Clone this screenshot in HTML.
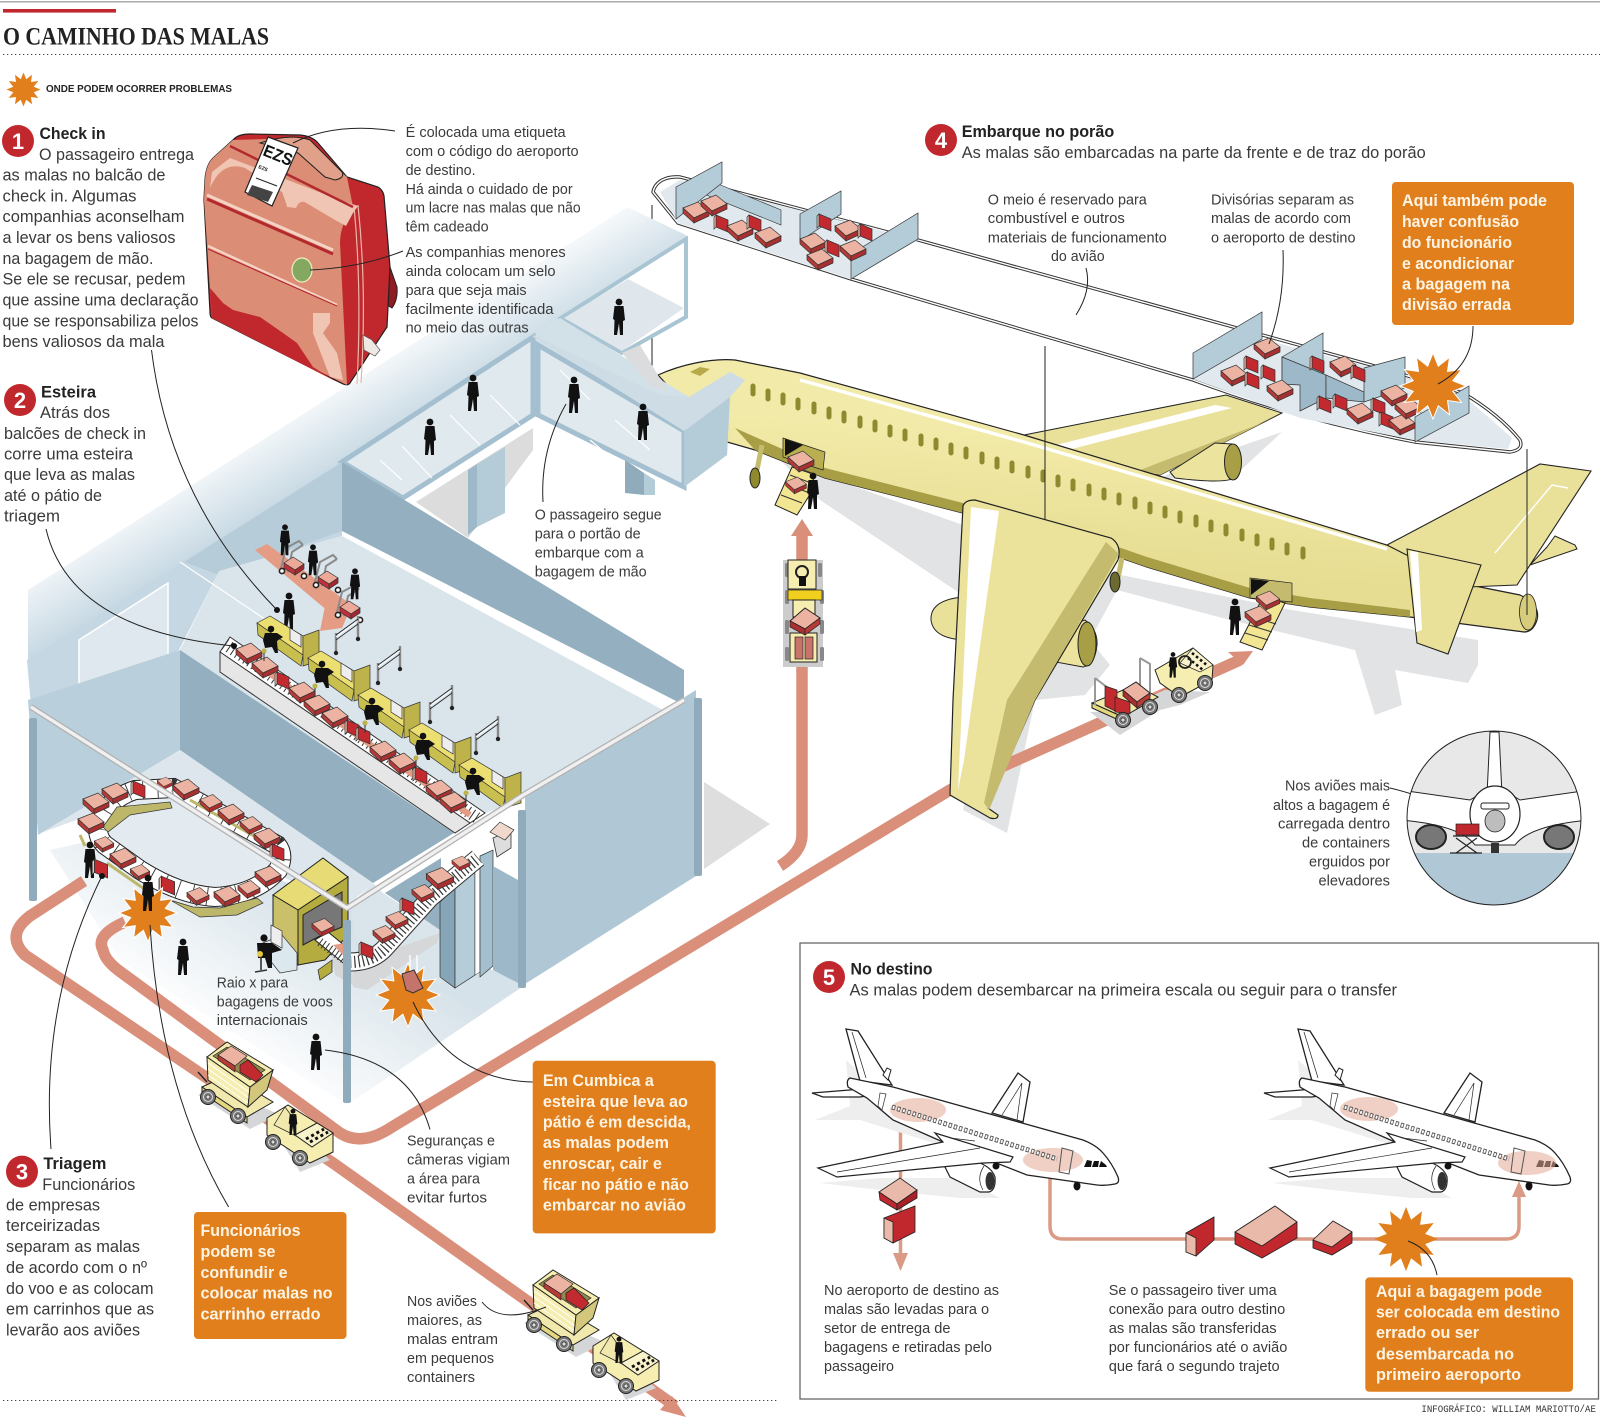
<!DOCTYPE html>
<html lang="pt"><head><meta charset="utf-8"><title>O caminho das malas</title>
<style>
html,body{margin:0;padding:0;background:#fff}
svg{display:block}
text{font-family:"Liberation Sans",sans-serif;fill:#3a3a3a}
.b{font-size:16.5px}.a{font-size:15px}
.h{font-size:16.5px;font-weight:bold;fill:#222}
.o{font-size:16.5px;font-weight:bold;fill:#fff4e4}
.k{fill:none;stroke:#222;stroke-width:1}
</style></head><body>
<svg xmlns="http://www.w3.org/2000/svg" width="1600" height="1418" viewBox="0 0 1600 1418">
<defs>
<linearGradient id="roof" gradientUnits="userSpaceOnUse" x1="325" y1="375" x2="372" y2="452"><stop offset="0" stop-color="#fff"/><stop offset="1" stop-color="#c6d8e3"/></linearGradient>
<linearGradient id="fl" gradientUnits="userSpaceOnUse" x1="310" y1="900" x2="215" y2="1045"><stop offset="0" stop-color="#d6e2e9"/><stop offset="1" stop-color="#fff"/></linearGradient>
<linearGradient id="fus" x1="0.55" y1="0.3" x2="0.45" y2="0.75"><stop offset="0" stop-color="#f2eaa8"/><stop offset="1" stop-color="#e6dd92"/></linearGradient>
<polygon id="st" points="1,0 .6,.16 .866,.5 .44,.44 .5,.866 .16,.6 0,1 -.16,.6 -.5,.866 -.44,.44 -.866,.5 -.6,.16 -1,0 -.6,-.16 -.866,-.5 -.44,-.44 -.5,-.866 -.16,-.6 0,-1 .16,-.6 .5,-.866 .44,-.44 .866,-.5 .6,-.16" fill="#e07f1c"/>
<g id="p" fill="#111"><circle cx="0" cy="-15" r="3.4"/><path d="M-4.5,-11L4.5,-11L6,3L4,4L4,18L1,18L0,6L-2,18L-5,18L-4.5,3L-6,2Z"/></g>
<g id="s" stroke="#333" stroke-width=".7"><polygon points="-13,-4 2,-10 13,-1 -2,6" fill="#ecb3a2"/><polygon points="-13,-4 -2,6 -2,11 -13,1" fill="#b83a36"/><polygon points="-2,6 13,-1 13,4 -2,11" fill="#a83030"/></g>
<g id="r" stroke="#333" stroke-width=".7"><polygon points="-6,-8 6,-3 6,9 -6,4" fill="#c22a30"/><polygon points="-6,-8 -8,-6 -8,6 -6,4" fill="#eec3b5"/></g>
<g id="w"><circle r="7.5" fill="#777" stroke="#222"/><circle r="4.5" fill="none" stroke="#ddd"/><circle r="2" fill="#ddd" stroke="#222" stroke-width=".6"/></g>
<g id="desk">
<polygon points="0,0 13,-7 46,13 46,32" fill="#ecdf72" stroke="#333" stroke-width=".7"/>
<polygon points="0,0 46,32 44,43 1,12" fill="#c9bf4f" stroke="#333" stroke-width=".7"/>
<polygon points="46,13 62,7 62,38 46,43" fill="#bdb34a" stroke="#333" stroke-width=".7"/>
<polygon points="33,5 44,12 44,24 33,17" fill="#eee" stroke="#333" stroke-width=".7"/>
<circle cx="14" cy="6" r="3.3" fill="#111"/><path d="M8,10L20,10L26,14L20,18L21,30H18L15,24L8,25L6,17Z" fill="#111"/>
<circle cx="7" cy="28" r="2.6" fill="#bdb34a"/><path d="M7,30V38" stroke="#333"/>
</g>
<g id="gate"><path d="M1,-20V0M23,-37V-14" stroke="#888" stroke-width="2.4" fill="none"/><path d="M1,-18L23,-34M1,-13L23,-29" stroke="#222" stroke-width=".8" fill="none"/><path d="M1,-18L23,-34" stroke="#fff" stroke-width="1" fill="none" transform="translate(0,2)"/><circle cx="1" cy="0" r="2.2" fill="#222"/><circle cx="23" cy="-14" r="2.2" fill="#222"/></g>
<g id="cart"><path d="M-12,5L-7,-15L6,-22L10,-18M-5,9L-1,-11L10,-18" fill="none" stroke="#8a8a8a" stroke-width="2"/><polygon points="-9,0 0,-6 11,1 2,7" fill="#eca998" stroke="#333" stroke-width=".7"/><polygon points="-9,0 2,7 2,12 -9,5" fill="#c0303a" stroke="#333" stroke-width=".7"/><polygon points="2,7 11,1 11,6 2,12" fill="#a02830" stroke="#333" stroke-width=".7"/><circle cx="-11" cy="8" r="2.6" fill="#fff" stroke="#222" stroke-width="1.6"/><circle cx="11" cy="13" r="2.6" fill="#fff" stroke="#222" stroke-width="1.6"/></g>
<g id="veh">
<polygon points="198,1095 250,1129 268,1120 300,1172 330,1160 280,1115 215,1085" fill="#d5d6d7"/>
<path d="M198,1072L207,1082" stroke="#222" stroke-width="1.4"/>
<polygon points="202,1087 247,1117 273,1102 228,1075" fill="#f1e8ad" stroke="#222"/>
<polygon points="202,1087 247,1117 247,1123 202,1093" fill="#e3d77f" stroke="#222"/>
<polygon points="207,1057 250,1087 248,1107 208,1080" fill="#f6edb0" stroke="#222"/>
<path d="M208,1063L249,1092M208,1069L249,1098M208,1075L248,1103" stroke="#fff" stroke-width="1"/>
<polygon points="250,1087 273,1070 267,1090 248,1107" fill="#d2c77a" stroke="#222"/>
<polygon points="207,1057 227,1042 273,1070 250,1087" fill="#f6edb0" stroke="#222"/>
<polygon points="213,1056 227,1047 265,1070 250,1080" fill="#8f8a50" stroke="#222" stroke-width=".7"/>
<polygon points="218,1055 231,1046 247,1056 235,1066" fill="#ecb3a2" stroke="#222" stroke-width=".7"/>
<polygon points="218,1055 235,1066 235,1072 218,1060" fill="#b83a36" stroke="#222" stroke-width=".7"/>
<polygon points="240,1065 248,1060 263,1075 256,1082 240,1072" fill="#c22a30" stroke="#222" stroke-width=".7"/>
<use href="#w" x="208" y="1097"/><use href="#w" x="238" y="1116"/>
<polygon points="267,1118 288,1105 333,1133 333,1152 310,1163 267,1135" fill="#f6edb0" stroke="#222"/>
<polygon points="295,1135 317,1123 333,1133 312,1147" fill="#f9f3cb" stroke="#222"/>
<path d="M306,1139L324,1129M310,1142L328,1132" stroke="#111" stroke-width="3" stroke-dasharray="3 3"/>
<polygon points="285,1107 296,1122 296,1136 274,1125" fill="#f1e8ad" stroke="#222" stroke-width=".7"/>
<use href="#p" transform="translate(293,1122) scale(.72)"/>
<use href="#w" x="273" y="1142"/><use href="#w" x="300" y="1158"/>
</g>
<g id="mini">
<polygon points="846,1060 875,1085 880,1105 950,1148 860,1120 815,1120 850,1106" fill="#eee"/>
<polygon points="820,1183 880,1178 960,1178 1000,1198 960,1198 880,1190" fill="#eee"/>
<polygon points="992,1113 1018,1073 1030,1082 1023,1122" fill="#fff" stroke="#222" stroke-width="1.3"/>
<path d="M1002,1115L1022,1083L1017,1120" stroke="#222" fill="none" stroke-width=".7"/>
<polygon points="846,1029 858,1031 892,1085 860,1081" fill="#fff" stroke="#222" stroke-width="1.3"/>
<path d="M852,1032L866,1078" stroke="#222" stroke-width=".7"/>
<polygon points="883,1075 887,1068 891,1070 888,1080" fill="#fff" stroke="#222"/>
<polygon points="812,1093 862,1089 872,1095 860,1097 823,1097" fill="#fff" stroke="#222" stroke-width="1.2"/>
<path d="M850,1078L893,1087L1083,1140Q1096,1145 1103,1153Q1112,1163 1118,1177Q1120,1183 1115,1184Q1105,1186 1097,1185L1027,1175L943,1142L893,1120L867,1098L848,1087Q846,1080 850,1078Z" fill="#fff" stroke="#222" stroke-width="1.3"/>
<path d="M945,1167L953,1163L980,1163Q992,1168 995,1177Q996,1190 989,1192L980,1192L950,1177Z" fill="#fff" stroke="#222" stroke-width="1.2"/>
<ellipse cx="990" cy="1181" rx="4.5" ry="9" fill="#333"/>
<path d="M984,1166Q976,1178 983,1190" fill="none" stroke="#222" stroke-width=".7"/>
<polygon points="818,1168 943,1142 935,1133 1013,1157 1010,1162 983,1163 837,1177" fill="#fff" stroke="#222" stroke-width="1.2"/>
<path d="M837,1172L980,1148M975,1141L950,1138" stroke="#222" stroke-width=".7" fill="none"/>
<polygon points="880,1093 886,1094 882,1110 878,1106" fill="#fff" stroke="#444" stroke-width=".8"/>
<polygon points="1084,1167 1087,1160 1092,1161 1091,1167" fill="#111"/><polygon points="1092,1167 1094,1161 1099,1161 1098,1167" fill="#111"/><polygon points="1099,1167 1101,1161 1106,1165 1107,1167" fill="#111"/>
<ellipse cx="996" cy="1166" rx="3.5" ry="3.5" fill="#111"/><ellipse cx="1077" cy="1186" rx="3.5" ry="4.5" fill="#111"/>
</g>
</defs>

<!-- header -->
<rect x="0" y="1" width="1600" height="1.5" fill="#aaa"/>
<rect x="3" y="9" width="113" height="3.6" fill="#c0282e"/>
<text x="3" y="44.5" textLength="266" lengthAdjust="spacingAndGlyphs" style="font-family:'Liberation Serif',serif;font-size:25px;font-weight:bold;fill:#222">O CAMINHO DAS MALAS</text>
<line x1="3" y1="54.5" x2="1600" y2="54.5" stroke="#444" stroke-width="1" stroke-dasharray="1.3 2.7"/>
<use href="#st" transform="translate(23.5,89.5) scale(17)"/>
<text x="46" y="92" textLength="186" lengthAdjust="spacingAndGlyphs" style="font-size:10px;font-weight:bold;fill:#222">ONDE PODEM OCORRER PROBLEMAS</text>

<!-- plane shadow -->
<path d="M780,460L963,525L1121,575L1292,610L1478,640L1478,665L1468,683L1395,670L1402,705L1375,715L1355,650L1230,620L1117,590L1090,640L1110,665L1085,695L1035,700L1007,833L963,810L1000,620L820,500Z" fill="#e2e3e4"/>
<path d="M1160,478L1230,480L1282,432L1200,460Z" fill="#e2e3e4"/>
<polygon points="704,782 770,824 704,869" fill="#dedede"/>

<!-- cargo section -->
<path d="M653,192C655,182 665,176 680,177L918,240L1382,368L1463,393Q1500,415 1520,440Q1524,450 1510,452L1415,442Q1300,420 1193,380L851,279L678,223Z" fill="#fff" stroke="#333" stroke-width="3.4" stroke-linejoin="round"/>
<path d="M653,192C655,182 665,176 680,177L918,240L1382,368L1463,393Q1500,415 1520,440Q1524,450 1510,452L1415,442Q1300,420 1193,380L851,279L678,223Z" fill="none" stroke="#fff" stroke-width="1.4" stroke-linejoin="round"/>
<polygon points="660,192 680,180 918,240 851,279 678,223" fill="#e1e9ee"/>
<polygon points="1193,379 1262,339 1382,370 1463,395 1512,438 1508,449 1415,440 1300,418" fill="#e1e9ee"/>
<polygon points="699,176 781,210 781,225 699,192" fill="#b4cbd8" stroke="#333" stroke-width=".6"/>
<polygon points="676,187 722,162 722,183 676,219" fill="#b4cbd8" stroke="#333" stroke-width=".7"/>
<polygon points="800,214 841,191 841,214 800,241" fill="#b4cbd8" stroke="#333" stroke-width=".7"/>
<polygon points="851,254 918,213 918,239 851,279" fill="#b4cbd8" stroke="#333" stroke-width=".7"/>
<polygon points="1193,353 1262,312 1262,339 1193,379" fill="#b4cbd8" stroke="#333" stroke-width=".7"/>
<polygon points="1282,357 1323,333 1323,373 1282,380" fill="#b4cbd8" stroke="#333" stroke-width=".7"/>
<polygon points="1282,357 1326,375 1326,398 1300,411 1300,385 1282,384" fill="#9db8c8" stroke="#333" stroke-width=".7"/>
<polygon points="1326,375 1364,392 1364,402 1326,398" fill="#9db8c8" stroke="#333" stroke-width=".7"/>
<polygon points="1364,368 1405,357 1405,388 1364,402" fill="#b4cbd8" stroke="#333" stroke-width=".7"/>
<polygon points="1415,417 1469,386 1469,413 1415,442" fill="#b4cbd8" stroke="#333" stroke-width=".7"/>
<use href="#s" x="696" y="212"/><use href="#s" x="714" y="205"/><use href="#r" x="722" y="223"/><use href="#s" x="740" y="230"/><use href="#r" x="755" y="223"/><use href="#s" x="768" y="237"/>
<use href="#r" x="825" y="222"/><use href="#s" x="848" y="230"/><use href="#r" x="866" y="232"/><use href="#s" x="813" y="243"/><use href="#r" x="833" y="248"/><use href="#s" x="820" y="259"/><use href="#s" x="853" y="250"/>
<use href="#s" x="1267" y="348"/><use href="#r" x="1252" y="364"/><use href="#r" x="1269" y="373"/><use href="#s" x="1234" y="375"/><use href="#s" x="1280" y="390"/><use href="#r" x="1253" y="380"/>
<use href="#s" x="1343" y="366"/><use href="#r" x="1318" y="364"/><use href="#r" x="1359" y="373"/><use href="#r" x="1325" y="404"/><use href="#r" x="1341" y="402"/><use href="#s" x="1360" y="413"/>
<use href="#s" x="1394" y="395"/><use href="#r" x="1379" y="406"/><use href="#r" x="1387" y="420"/><use href="#s" x="1402" y="424"/><use href="#s" x="1408" y="408"/>

<!-- plane far parts -->
<polygon points="1024,435 1226,395 1282,413 1160,475 1100,470" fill="#e9e09a" stroke="#222" stroke-width="1"/>
<polygon points="1052,446 1215,405 1232,408 1060,452" fill="#fff"/>
<polygon points="1282,413 1262,423 1140,470 1160,475" fill="#c4bb6e"/>
<path d="M1170,472L1215,443L1232,444Q1243,460 1234,478Q1225,484 1175,478Z" fill="#ece39f" stroke="#222"/>
<ellipse cx="1233" cy="462" rx="8.5" ry="18" fill="#a89e45" stroke="#222"/>
<polygon points="1547,547 1555,536 1575,545 1577,549 1530,565" fill="#e9e09a" stroke="#222"/>

<!-- main fuselage -->
<path d="M658,375C680,365 710,358 735,360L800,373L1024,435L1387,545L1470,585L1520,595Q1541,605 1537,620Q1533,632 1524,632L1410,617L1310,607L1250,598L1147,567L1121,558L963,513L825,478L755,450L720,440L690,410Z" fill="url(#fus)" stroke="#222" stroke-width="1.2"/>
<path d="M735,428L825,468L963,503L1121,548L1147,557L1250,588L1310,598L1410,610L1410,617L1310,607L1250,598L1147,567L1121,558L963,513L825,478L755,450Z" fill="#a89e45"/>
<path d="M800,380L1024,442L1387,549" fill="none" stroke="#fff" stroke-width="3.4"/>
<path d="M753,386v8M768,391v8M783,395v8M798,400v8M814,404v8M829,409v8M844,413v8M860,418v8M875,422v8M890,427v8M905,431v8M921,436v8M936,440v8M951,445v8M966,449v8M982,454v8M997,459v8M1012,463v8M1028,468v8M1043,472v8M1058,477v8M1073,481v8M1089,486v8M1104,490v8M1119,495v8M1135,499v8M1150,504v8M1165,508v8M1180,513v8M1196,517v8M1211,522v8M1226,526v8M1242,531v8M1257,536v8M1272,540v8M1287,545v8M1303,549v8" fill="none" stroke="#8f8a2f" stroke-width="5" stroke-linecap="round"/>
<polygon points="1387,545 1540,464 1591,471 1517,585 1468,587 1440,572" fill="#e9e09a" stroke="#222" stroke-width="1.1"/>
<path d="M1495,553L1552,485L1568,488" fill="none" stroke="#fff" stroke-width="1.4"/>
<ellipse cx="1528" cy="612" rx="8.5" ry="18" fill="#d6cc7c" stroke="#222" stroke-width=".8"/>
<polygon points="1407,549 1481,565 1448,654 1417,643" fill="#e9e09a" stroke="#222" stroke-width="1.1"/>
<polygon points="1410,551 1418,552 1422,630 1416,632" fill="#fff"/>
<path d="M690,372L700,367L710,369L700,376Z" fill="#b5a94a"/>
<!-- gear -->
<path d="M762,445L757,470" stroke="#c4bb6e" stroke-width="5"/><ellipse cx="755" cy="478" rx="5" ry="10" fill="#8f8a2f" stroke="#222"/>
<path d="M1122,558L1118,578" stroke="#c4bb6e" stroke-width="5"/><ellipse cx="1115" cy="582" rx="5" ry="10" fill="#6d6a30" stroke="#222"/>
<!-- doors -->
<polygon points="783,438 825,452 823,470 783,457" fill="#b9af50" stroke="#222" stroke-width=".7"/>
<polygon points="785,439 803,445 785,456" fill="#111"/>
<polygon points="1250,578 1292,583 1292,602 1250,598" fill="#c4bb6e" stroke="#222" stroke-width=".7"/>
<polygon points="1251,579 1269,581 1251,595" fill="#111"/>
<!-- callout verticals -->
<line x1="652" y1="205" x2="652" y2="376" stroke="#222"/>

<!-- terminal roof band -->
<polygon points="627,207 686,235 686,317 533,335 342,462 184,562 28,660 28,590" fill="url(#roof)"/>
<polygon points="561,318 686,239 686,317 622,353" fill="#fff" stroke="#a9c4d3" stroke-width="4"/>
<polygon points="628,279 684,308 622,351 564,318" fill="#dfe7ec"/>
<!-- jetway -->
<polygon points="560,318 533,335 342,462 403,498 533,415 684,487 727,455 730,397 689,397" fill="#d2e0e8"/>
<polygon points="416,502 533,428 533,450 468,538" fill="#dcdcdc"/>
<polygon points="477,464 505,447 505,513 477,527" fill="#b4cbd8"/>
<polygon points="468,470 477,464 477,527 468,535" fill="#9db8c8"/>
<polygon points="625,460 644,473 644,495 625,493" fill="#8fabbc"/>
<polygon points="644,473 655,480 655,495 644,495" fill="#b4cbd8"/>
<polygon points="342,462 533,337 533,415 403,498" fill="#e0e9ee" stroke="#a4bfcf" stroke-width="5"/>
<polygon points="538,345 684,431 684,487 538,415" fill="#e0e9ee" stroke="#a4bfcf" stroke-width="5"/>
<polygon points="684,431 730,397 727,455 684,487" fill="#b4cbd8"/>
<polygon points="533,335 660,395 689,397 730,372 745,380 730,397 684,431 533,337" fill="#cddce5"/>
<polygon points="622,353 640,345 668,392 650,385" fill="#dbdcdd"/>
<g stroke="#fff" stroke-width="1.2" fill="none"><path d="M380,460L402,480M402,446L432,478M450,415L480,445M490,395L520,425M560,370L590,400M615,420L650,450M590,440L620,465"/></g>
<use href="#p" x="619" y="317"/><use href="#p" x="430" y="437"/><use href="#p" x="473" y="393"/><use href="#p" x="574" y="395"/><use href="#p" x="643" y="422"/>

<!-- room -->
<polygon points="27,660 342,462 342,536 219,571 179,650 32,718" fill="#c5d7e2"/>
<polygon points="79,640 168,583 168,660 79,702" fill="#dfe8ee" stroke="#fff" stroke-width="1.5"/>
<polygon points="184,562 342,462 342,531 219,575" fill="#b7ccd9"/>
<polygon points="342,462 684,670 684,705 342,531" fill="#94afbf"/>
<polygon points="342,536 672,715 525,796 448,830 180,650 219,571" fill="#dae5eb"/>
<polygon points="28,700 180,650 180,750 38,835" fill="#b9cfdb"/>
<polygon points="180,650 454,833 373,883 180,750" fill="#94afbf"/>
<polygon points="41,833 180,750 373,883 345,908 130,800" fill="#dce6ec"/>
<polygon points="525,796 696,690 696,876 525,984" fill="#b0c8d6"/>
<polygon points="50,850 140,830 350,905 525,985 347,1105 120,960" fill="url(#fl)"/>
<polygon points="373,883 383,893 440,930 441,985 360,960 350,905" fill="#dae5eb"/>
<polygon points="385,893 441,858 441,903 440,930" fill="#94afbf"/>
<path d="M180,562L525,794" stroke="#fff" stroke-width="1.2" fill="none"/>
<!-- hall arrow -->
<polygon points="255,550 267,544 352,605 340,617 325,617 335,617" fill="#e59c85"/>
<polygon points="325,606 352,605 342,628 320,631" fill="#e59c85"/>
<!-- check in -->
<use href="#cart" x="293" y="563"/><use href="#cart" x="327" y="577"/><use href="#cart" x="349" y="607"/>
<use href="#p" transform="translate(285,540) scale(.85)"/><use href="#p" transform="translate(313,560) scale(.85)"/><use href="#p" transform="translate(355,584) scale(.85)"/><use href="#p" x="289" y="611"/>
<polygon points="230,637 485,813 470,823 220,652" fill="#fff" stroke="#333"/>
<polygon points="220,652 470,823 455,833 220,672" fill="#e6e6e6" stroke="#333"/>
<path d="M225,644L477,818" stroke="#333" stroke-width="12" stroke-dasharray="1 4"/>
<path d="M262,668L470,815" stroke="#e59c85" stroke-width="6"/>
<use href="#s" x="249" y="653"/><use href="#s" x="265" y="667"/><use href="#r" x="283" y="680"/><use href="#s" x="302" y="692"/><use href="#s" x="317" y="705"/><use href="#s" x="335" y="717"/><use href="#r" x="353" y="728"/><use href="#r" x="364" y="735"/><use href="#s" x="383" y="751"/><use href="#s" x="402" y="763"/><use href="#r" x="421" y="775"/><use href="#s" x="439" y="790"/><use href="#s" x="453" y="802"/>
<use href="#desk" x="257" y="623"/><use href="#desk" x="308" y="658"/><use href="#desk" x="358" y="695"/><use href="#desk" x="409" y="730"/><use href="#desk" x="459" y="765"/>
<use href="#gate" x="335" y="653"/><use href="#gate" x="377" y="683"/><use href="#gate" x="429" y="722"/><use href="#gate" x="475" y="753"/>

<!-- x-ray shadow, chute -->
<polygon points="353,963 440,933 437,943 367,990 353,987" fill="#d5d7d9"/>
<polygon points="330,945 352,960 353,985 335,975" fill="#d5d7d9"/>
<polygon points="440,902 455,888 455,988 440,977" fill="#86a5b7" stroke="#333" stroke-width=".7"/>
<polygon points="455,888 475,870 475,975 455,988" fill="#b5ccd9" stroke="#333" stroke-width=".7"/>
<polygon points="475,870 480,866 480,972 475,975" fill="#fff" stroke="#333" stroke-width=".5"/>
<polygon points="480,856 493,850 493,966 480,977" fill="#a4bfce" stroke="#333" stroke-width=".7"/>
<polygon points="493,866 518,880 518,983 493,970" fill="#9db8c8"/>
<polygon points="493,838 511,830 511,848 497,857" fill="#ddd" stroke="#333" stroke-width=".8"/>
<polygon points="490,832 500,822 514,830 505,840" fill="#f0d8cc" stroke="#333" stroke-width=".7"/>
<path d="M350,962Q372,962 385,948L430,898L478,858" fill="none" stroke="#333" stroke-width="19"/>
<path d="M350,962Q372,962 385,948L430,898L478,858" fill="none" stroke="#fff" stroke-width="17"/>
<path d="M350,962Q372,962 385,948L430,898L478,858" fill="none" stroke="#333" stroke-width="12" stroke-dasharray="1.2 3"/>
<use href="#r" x="367" y="950"/><use href="#s" transform="translate(384,934) scale(.85)"/><use href="#s" transform="translate(397,920) scale(.85)"/><use href="#r" x="408" y="906"/><use href="#s" transform="translate(423,893) scale(.85)"/><use href="#s" transform="translate(440,878) scale(1.05)"/><use href="#s" transform="translate(461,863) scale(.7)"/>

<!-- carousel -->
<path d="M100,825Q105,800 135,790L173,788L277,845Q285,855 278,870Q255,895 215,897Q180,895 140,870L105,845Q95,835 100,825Z" fill="#e3ebf0" stroke="#222" stroke-width="20"/>
<path d="M100,825Q105,800 135,790L173,788L277,845Q285,855 278,870Q255,895 215,897Q180,895 140,870L105,845Q95,835 100,825Z" fill="none" stroke="#fff" stroke-width="18"/>
<path d="M100,825Q105,800 135,790L173,788L277,845Q285,855 278,870Q255,895 215,897Q180,895 140,870L105,845Q95,835 100,825Z" fill="none" stroke="#333" stroke-width="18" stroke-dasharray=".9 14"/>
<polygon points="103,827 117,807 170,802 172,808 130,815 108,832" fill="#bdb76a" stroke="#333" stroke-width=".7"/>
<polygon points="170,900 200,917 237,915 263,903 257,898 220,908 193,907" fill="#bdb76a" stroke="#333" stroke-width=".7"/>
<path d="M107,863L150,893M80,835L85,846M190,800L270,845" stroke="#bdb76a" stroke-width="3" fill="none"/>
<use href="#s" x="96" y="803"/><use href="#s" x="115" y="793"/><use href="#r" x="139" y="789"/><use href="#s" transform="translate(165,783) scale(.6)"/><use href="#s" x="186" y="789"/><use href="#s" transform="translate(211,803) scale(.85)"/><use href="#s" x="231" y="814"/><use href="#s" transform="translate(251,825) scale(.85)"/><use href="#s" x="267" y="838"/><use href="#r" x="278" y="852"/><use href="#s" x="91" y="823"/><use href="#s" transform="translate(104,844) scale(.75)"/><use href="#s" x="123" y="858"/><use href="#s" transform="translate(140,872) scale(.75)"/><use href="#r" x="167" y="885"/><use href="#s" transform="translate(198,896) scale(.85)"/><use href="#s" x="227" y="896"/><use href="#s" transform="translate(249,889) scale(.85)"/><use href="#s" x="268" y="876"/>
<!-- x-ray box -->
<polygon points="281,945 315,925 330,945 312,955" fill="#ccc06a" stroke="#333" stroke-width=".7"/>
<polygon points="273,895 323,858 348,877 298,910" fill="#e7db75" stroke="#222"/>
<polygon points="273,895 298,910 298,965 273,950" fill="#cbc06a" stroke="#222"/>
<polygon points="298,910 348,877 348,935 325,960 298,965" fill="#b5ac40" stroke="#222"/>
<polygon points="303,915 342,892 342,927 318,937 303,945" fill="#777" stroke="#222"/>
<polygon points="318,970 332,960 332,972 320,980" fill="#b5ac40" stroke="#222" stroke-width=".7"/>
<polygon points="315,940 328,932 350,950 347,966" fill="#fff" stroke="#222"/>
<path d="M320,942L345,960" stroke="#333" stroke-width="9" stroke-dasharray="1 3"/>
<polygon points="333,945 345,943 345,957" fill="#e59c85"/>
<use href="#s" transform="translate(323,927) scale(.85)"/>
<polygon points="258,945 282,935 297,953 297,970 280,973" fill="#dbe8ee" stroke="#333" stroke-width=".7"/>
<polygon points="271,925 282,931 282,948 271,942" fill="#eee" stroke="#333" stroke-width=".7"/>
<circle cx="264" cy="938" r="3.6" fill="#111"/><path d="M257,943L272,943L282,950L272,953L272,968H268L265,958L258,958Z" fill="#111"/>
<circle cx="260" cy="954" r="3" fill="#e3c93c"/><path d="M261,957V970M255,972L267,970" stroke="#333" stroke-width="1.6"/>

<!-- routes -->
<g fill="none" stroke="#da8f7a" stroke-width="11.5">
<path d="M84,881L30,916Q5,935 25,955L333,1163L675,1406"/>
<path d="M125,922Q95,935 103,950Q105,960 118,970L340,1133Q362,1147 392,1127L950,790L1240,660"/>
<path d="M802,530V835Q802,852 780,866"/>
</g>
<polygon points="802,519 791,536 813,536" fill="#da8f7a"/>
<polygon points="1253,651 1228,652 1243,665" fill="#da8f7a"/>
<polygon points="686,1417 660,1410 672,1396" fill="#da8f7a"/>

<!-- near wing, over route -->
<path d="M963,597Q930,600 931,620Q933,638 963,640Z" fill="#e9e09a" stroke="#222"/>
<path d="M1040,635L1085,620Q1098,630 1097,645Q1095,665 1083,667L1045,660Z" fill="#ece39f" stroke="#222"/>
<ellipse cx="1087" cy="644" rx="9" ry="22" fill="#a89e45" stroke="#222"/>
<path d="M963,506Q965,500 975,500L1111,538Q1122,545 1118,560L1035,700L988,808L998,815Q998,820 990,818L950,795L953,700Z" fill="#ebe39c" stroke="#222" stroke-width="1.2"/>
<polygon points="1106,542 1119,554 1035,700 989,810 984,803 1007,700" fill="#c4bb6e"/>
<polygon points="971,507 999,511 964,760 958,790" fill="#fff"/>
<line x1="1045" y1="346" x2="1045" y2="520" stroke="#222"/>
<line x1="1527" y1="449" x2="1527" y2="615" stroke="#222"/>

<!-- beams and pillars -->
<rect x="29" y="718" width="8" height="183" rx="2" fill="#8fabbc"/><rect x="694" y="698" width="8" height="178" rx="2" fill="#8fabbc"/><rect x="518" y="810" width="8" height="178" rx="2" fill="#8fabbc"/><rect x="343" y="920" width="8" height="183" rx="2" fill="#8fabbc"/>
<path d="M31,707L347,908L525,794L684,700" fill="none" stroke="#b2b2b2" stroke-width="6"/>
<path d="M31,707L347,908L525,794L684,700" fill="none" stroke="#f0f0f0" stroke-width="3.4"/>

<!-- people lower -->
<use href="#p" x="90" y="860"/><use href="#p" x="183" y="957"/><use href="#p" x="316" y="1052"/>
<use href="#r" transform="translate(101,868) scale(1.1)"/><use href="#r" transform="translate(168,885) scale(1.1)"/>

<!-- stars -->
<use href="#st" transform="translate(148,913) scale(29)" stroke="#fff" stroke-width=".04"/>
<use href="#p" x="148" y="893"/>
<use href="#st" transform="translate(408,995) scale(32)" stroke="#fff" stroke-width=".03"/>
<path d="M410,955V972M417,955V972" stroke="#fff" stroke-width="1.4"/>
<polygon points="402,974 414,970 423,988 413,993 406,990" fill="#c4746a" stroke="#333"/>
<use href="#st" transform="translate(1433,386) scale(33)" stroke="#fff" stroke-width=".03"/>
<!-- vehicles -->
<use href="#veh"/><use href="#veh" x="326" y="228"/>

<!-- front conveyor -->
<polygon points="775,505 792,467 810,473 816,485 797,515" fill="#f3e692" stroke="#222"/>
<path d="M781,495L802,503M786,484L807,492M790,475L811,483" stroke="#333"/>
<use href="#s" x="801" y="461"/><use href="#s" transform="translate(796,485) scale(.8)"/><use href="#p" x="813" y="491"/>
<!-- rear conveyor -->
<polygon points="1240,642 1263,597 1285,603 1262,650" fill="#f3e692" stroke="#222"/>
<path d="M1245,633L1268,640M1249,625L1272,632M1253,617L1276,624" stroke="#333"/>
<use href="#s" transform="translate(1268,600) scale(.9)"/><use href="#s" x="1258" y="616"/><use href="#p" x="1235" y="617"/>
<!-- front truck -->
<rect x="783" y="560" width="40" height="107" fill="#ccc"/>
<rect x="785" y="563" width="4" height="14" rx="1.5" fill="#888"/><rect x="818" y="563" width="4" height="14" rx="1.5" fill="#888"/>
<rect x="785" y="590" width="4" height="14" rx="1.5" fill="#888"/><rect x="820" y="590" width="4" height="14" rx="1.5" fill="#888"/>
<rect x="785" y="620" width="4" height="14" rx="1.5" fill="#888"/><rect x="820" y="620" width="4" height="14" rx="1.5" fill="#888"/>
<rect x="785" y="647" width="4" height="14" rx="1.5" fill="#888"/><rect x="820" y="647" width="4" height="14" rx="1.5" fill="#888"/>
<rect x="788" y="560" width="28" height="29" fill="#f6edb0" stroke="#222"/>
<circle cx="802" cy="572" r="6" fill="none" stroke="#222" stroke-width="2"/><rect x="799" y="576" width="7" height="10" fill="#111"/>
<rect x="788" y="590" width="34" height="10" fill="#f0cf1e" stroke="#222" stroke-width=".7"/>
<rect x="793" y="600" width="22" height="17" fill="#f6edb0" stroke="#222"/>
<rect x="790" y="633" width="27" height="29" fill="#f6edb0" stroke="#222"/>
<rect x="795" y="637" width="8" height="22" fill="#c9736a" stroke="#222" stroke-width=".7"/><rect x="805" y="637" width="8" height="22" fill="#c9736a" stroke="#222" stroke-width=".7"/>
<polygon points="790,621 805,608 820,618 805,629" fill="#ecb3a2" stroke="#222"/>
<polygon points="790,621 805,629 805,635 790,627" fill="#a83030" stroke="#222" stroke-width=".7"/><polygon points="805,629 820,618 820,624 805,635" fill="#b83a36" stroke="#222" stroke-width=".7"/>
<!-- rear truck -->
<polygon points="1090,712 1120,735 1160,710 1180,705 1210,692 1165,690 1115,712" fill="#d5d6d7"/>
<polygon points="1092,703 1123,717 1158,697 1135,685" fill="#f3e9a6" stroke="#222"/>
<polygon points="1092,703 1123,717 1123,722 1092,708" fill="#e3d77f" stroke="#222"/>
<path d="M1095,678V705M1095,678L1108,688V708M1140,658V690M1140,658L1150,664V696" fill="none" stroke="#999" stroke-width="2"/>
<polygon points="1105,686 1117,690 1117,712 1105,706" fill="#c22a30" stroke="#222" stroke-width=".7"/>
<polygon points="1115,697 1130,702 1130,714 1115,712" fill="#c22a30" stroke="#222" stroke-width=".7"/>
<polygon points="1123,690 1136,682 1150,693 1137,702" fill="#ecb3a2" stroke="#222"/>
<polygon points="1123,690 1137,702 1137,708 1123,696" fill="#a83030" stroke="#222" stroke-width=".7"/><polygon points="1137,702 1150,693 1150,699 1137,708" fill="#b83a36" stroke="#222" stroke-width=".7"/>
<polygon points="1155,670 1193,648 1213,665 1212,680 1180,697 1160,683" fill="#f6edb0" stroke="#222"/>
<polygon points="1180,663 1193,648 1213,665 1200,672" fill="#f9f3cb" stroke="#222" stroke-width=".7"/>
<path d="M1192,653L1208,666M1188,658L1203,670" stroke="#111" stroke-width="2.6" stroke-dasharray="2.6 2.6"/>
<use href="#p" transform="translate(1173,665) scale(.7)"/>
<circle cx="1185" cy="662" r="6" fill="none" stroke="#222" stroke-width="1.8"/>
<use href="#w" x="1123" y="720"/><use href="#w" x="1150" y="707"/><use href="#w" x="1179" y="695"/><use href="#w" x="1205" y="683"/>

<!-- suitcase -->
<path d="M390,267L397,287Q398,300 392,308L387,305Z" fill="#8e1c22" stroke="#222"/>
<path d="M205,180Q206,165 213,158L233,140Q238,134 250,134L300,135Q312,136 318,143L347,177L378,187Q383,190 384,196L390,267L387,327L350,383Q348,386 343,384L212,318Q210,317 210,312L204,200Z" fill="#c0282e" stroke="#222" stroke-width="1.2"/>
<path d="M205,180Q206,165 213,158L233,140L300,138L347,177L353,207Q340,225 340,243L347,385L212,318L204,200Z" fill="#dc8d76"/>
<path d="M210,188Q222,160 245,168L282,192Q287,205 287,207L296,208Q300,198 308,204L335,220L346,226L353,213L358,206L340,200L230,158L212,172Z" fill="#f0c5b3"/>
<path d="M210,288L223,303L233,310L260,317L283,333L297,343L313,367L337,382L212,318Z" fill="#c0282e"/>
<path d="M313,313H330V323L323,333L337,353L343,380L330,377L313,333Z" fill="#f0c5b3"/>
<path d="M207,195L333,250" stroke="#f4d3c4" stroke-width="3"/><path d="M207,199L333,254" stroke="#b32a2e" stroke-width="3"/>
<path d="M208,246L337,305" stroke="#f4d3c4" stroke-width="2.4"/><path d="M208,249L337,306" stroke="#b32a2e" stroke-width="1.2"/>
<path d="M230,146L353,207" stroke="#b32a2e" stroke-width="2.5" fill="none"/>
<path d="M354,206Q362,290 357,384M358,205Q367,290 361,383" fill="none" stroke="#eab7a7" stroke-width="1.2"/>
<path d="M260,143Q290,133 310,140L342,172Q345,178 335,180L325,177L298,153Z" fill="#e1a08a" stroke="#222"/>
<polygon points="268,137 298,148 272,206 245,192" fill="#fff" stroke="#222" stroke-width="1.2"/>
<polygon points="252,185 273,192 268,202 247,195" fill="#444"/>
<path d="M256,178L277,186" stroke="#222"/>
<text x="262" y="155" transform="rotate(22 262 155)" textLength="30" lengthAdjust="spacingAndGlyphs" style="font-size:17px;font-weight:bold;fill:#111">EZS</text>
<text x="258" y="168" transform="rotate(22 258 168)" style="font-size:5px;font-weight:bold;fill:#111">EZS</text>
<ellipse cx="302" cy="270" rx="10" ry="12" fill="#84a85f" stroke="#edeec4" stroke-width="1.2"/>
<polygon points="363,335 372,340 380,350 375,356 364,350" fill="#efe9e4" stroke="#555" stroke-width=".7"/>

<!-- leaders -->
<g class="k">
<path d="M293,143Q335,122 395,131"/>
<path d="M310,270Q360,268 403,251"/>
<path d="M151.5,350Q170,500 277,610"/>
<path d="M46,529Q70,630 234,646"/>
<path d="M543,502Q540,450 566,404"/>
<path d="M1086,268Q1092,290 1076,315"/>
<path d="M1283,250Q1285,300 1269,344"/>
<path d="M1473,326Q1473,365 1438,384"/>
<path d="M51,1149Q40,1000 102,876"/>
<path d="M228.6,1207Q160,1090 150,925"/>
<path d="M532.7,1082Q450,1080 413,1002"/>
<path d="M430,1129.5Q410,1060 325,1050"/>
<path d="M482,1302Q500,1325 546,1307"/>
<path d="M1390,788Q1440,800 1456,819"/>
</g>
<circle cx="277" cy="610" r="3" fill="#111"/><circle cx="234" cy="646" r="3" fill="#111"/><circle cx="102" cy="876" r="3" fill="#111"/>

<!-- inset circle -->
<clipPath id="c"><circle cx="1494" cy="818" r="87"/></clipPath>
<g clip-path="url(#c)">
<rect x="1400" y="725" width="190" height="130" fill="#e8e8e8"/>
<rect x="1400" y="853" width="190" height="60" fill="#b0c8d6"/>
<path d="M1400,790L1470,800L1495,785L1520,800L1590,790V820Q1530,825 1515,845H1475Q1460,825 1400,820Z" fill="#fff" stroke="#222"/>
<polygon points="1490,732 1499,732 1502,795 1487,795" fill="#fff" stroke="#222" stroke-width="1"/>
<ellipse cx="1495" cy="814" rx="25" ry="28" fill="#fff" stroke="#222" stroke-width="1.2"/>
<ellipse cx="1495" cy="821" rx="10" ry="11" fill="#bdbdbd" stroke="#222" stroke-width=".8"/>
<rect x="1481" y="803" width="28" height="6" rx="2" fill="#fff" stroke="#222"/>
<ellipse cx="1431" cy="837" rx="15" ry="12" fill="#777" stroke="#222" stroke-width="2"/>
<ellipse cx="1559" cy="837" rx="15" ry="12" fill="#777" stroke="#222" stroke-width="2"/>
<rect x="1491" y="843" width="8" height="10" fill="#333"/>
<rect x="1456" y="824" width="23" height="11" fill="#c0282e" stroke="#222" stroke-width=".7"/>
<path d="M1453,836H1480M1456,853L1477,838M1477,853L1456,838M1450,853H1482" stroke="#222" stroke-width="1.2" fill="none"/>
</g>
<circle cx="1494" cy="818" r="87" fill="none" stroke="#222" stroke-width="1"/>

<!-- box 5 -->
<rect x="800" y="943" width="798.5" height="456" fill="none" stroke="#666" stroke-width="1.3"/>
<g fill="none" stroke="#da9a85" stroke-width="3.5"><path d="M900.5,1110V1258"/><path d="M1050,1160V1226Q1050,1239 1063,1239H1506Q1519,1239 1519,1226V1195"/></g>
<use href="#mini"/><use href="#mini" x="452"/>
<ellipse cx="918" cy="1110" rx="28" ry="12" fill="#e4a994" opacity=".55"/>
<ellipse cx="1053" cy="1160" rx="30" ry="12" fill="#e4a994" opacity=".55"/>
<ellipse cx="1369" cy="1109" rx="29" ry="12" fill="#e4a994" opacity=".55"/>
<ellipse cx="1527" cy="1163" rx="29" ry="12" fill="#e4a994" opacity=".55"/>
<g id="win"><line x1="892" y1="1107" x2="1057" y2="1159" stroke="#555" stroke-width="5" stroke-dasharray="3.4 2"/><line x1="892" y1="1107" x2="1057" y2="1159" stroke="#fff" stroke-width="3" stroke-dasharray="1.8 3.6" stroke-dashoffset="-.8"/></g>
<use href="#win" x="452"/>
<polygon points="1062,1148 1073,1151 1069,1174 1059,1172" fill="none" stroke="#555"/><polygon points="1514,1148 1525,1151 1521,1174 1511,1172" fill="none" stroke="#555"/>
<polygon points="893,1253 908,1253 900.5,1271" fill="#da9a85"/>
<polygon points="1519,1181 1512,1197 1526,1197" fill="#da9a85"/>
<g stroke="#222" stroke-width=".8">
<polygon points="879,1192 900,1178 917,1190 897,1204" fill="#e9b9a9"/><polygon points="879,1192 897,1204 897,1210 880,1200" fill="#c0282e"/><polygon points="897,1204 917,1190 917,1198 897,1210" fill="#a82028"/>
<polygon points="884,1218 915,1206 915,1232 893,1243 884,1238" fill="#c0282e"/><polygon points="884,1218 893,1222 893,1243 884,1238" fill="#e9b9a9"/>
<polygon points="1186,1233 1214,1217 1214,1240 1196,1256 1186,1252" fill="#c0282e"/><polygon points="1186,1233 1196,1238 1196,1256 1186,1252" fill="#e9b9a9"/>
<polygon points="1235,1232 1275,1206 1297,1222 1297,1238 1262,1258 1235,1244" fill="#c0282e"/><polygon points="1235,1232 1275,1206 1297,1222 1262,1246" fill="#e9b9a9"/>
<polygon points="1313,1240 1333,1221 1352,1232 1352,1243 1332,1255 1313,1248" fill="#c0282e"/><polygon points="1313,1240 1333,1221 1352,1232 1332,1247" fill="#e9b9a9"/>
</g>
<use href="#st" transform="translate(1406,1239) scale(32)"/>
<path class="k" d="M1437,1275Q1432,1250 1408,1241"/>

<!-- orange boxes -->
<rect x="1392" y="182" width="182" height="143" rx="4" fill="#e07f1c"/>
<rect x="194" y="1212" width="152.5" height="127" rx="4" fill="#e07f1c"/>
<rect x="532.7" y="1060.8" width="183" height="172.6" rx="4" fill="#e07f1c"/>
<rect x="1365.3" y="1277.4" width="207.7" height="114.4" rx="4" fill="#e07f1c"/>

<!-- number circles -->
<g fill="#c0282e"><circle cx="18" cy="141" r="16"/><circle cx="20" cy="400" r="16"/><circle cx="941" cy="140" r="16"/><circle cx="22" cy="1171.6" r="16"/><circle cx="829" cy="977" r="16"/></g>
<g text-anchor="middle" style="font-weight:bold;font-size:22px">
<text x="18" y="149" style="fill:#fff">1</text><text x="20" y="408" style="fill:#fff">2</text><text x="941" y="148" style="fill:#fff">4</text><text x="22" y="1179.6" style="fill:#fff">3</text><text x="829" y="985" style="fill:#fff">5</text></g>

<!-- step 1 -->
<text class="h" x="39.5" y="138.8" textLength="66" lengthAdjust="spacingAndGlyphs">Check in</text>
<text class="b" x="39" y="159.8" textLength="155" lengthAdjust="spacingAndGlyphs">O passageiro entrega</text>
<text class="b" x="2.5" y="180.4" textLength="163" lengthAdjust="spacingAndGlyphs">as malas no balcão de</text>
<text class="b" x="2.5" y="201.3" textLength="134" lengthAdjust="spacingAndGlyphs">check in. Algumas</text>
<text class="b" x="2.5" y="221.9" textLength="182" lengthAdjust="spacingAndGlyphs">companhias aconselham</text>
<text class="b" x="2.5" y="242.9" textLength="173" lengthAdjust="spacingAndGlyphs">a levar os bens valiosos</text>
<text class="b" x="2.5" y="263.8" textLength="151" lengthAdjust="spacingAndGlyphs">na bagagem de mão.</text>
<text class="b" x="2.5" y="284.4" textLength="183" lengthAdjust="spacingAndGlyphs">Se ele se recusar, pedem</text>
<text class="b" x="2.5" y="305.4" textLength="196" lengthAdjust="spacingAndGlyphs">que assine uma declaração</text>
<text class="b" x="2.5" y="326.3" textLength="196" lengthAdjust="spacingAndGlyphs">que se responsabiliza pelos</text>
<text class="b" x="2.5" y="346.9" textLength="162" lengthAdjust="spacingAndGlyphs">bens valiosos da mala</text>
<!-- step 2 -->
<text class="h" x="41" y="397.3" textLength="55" lengthAdjust="spacingAndGlyphs">Esteira</text>
<text class="b" x="40" y="417.9" textLength="70" lengthAdjust="spacingAndGlyphs">Atrás dos</text>
<text class="b" x="4" y="438.8" textLength="142" lengthAdjust="spacingAndGlyphs">balcões de check in</text>
<text class="b" x="4" y="459.4" textLength="129" lengthAdjust="spacingAndGlyphs">corre uma esteira</text>
<text class="b" x="4" y="480" textLength="131" lengthAdjust="spacingAndGlyphs">que leva as malas</text>
<text class="b" x="4" y="500.9" textLength="98" lengthAdjust="spacingAndGlyphs">até o pátio de</text>
<text class="b" x="4" y="521.4" textLength="56" lengthAdjust="spacingAndGlyphs">triagem</text>
<!-- annotations top -->
<text class="a" x="405.6" y="137" textLength="160" lengthAdjust="spacingAndGlyphs">É colocada uma etiqueta</text>
<text class="a" x="405.6" y="155.8" textLength="173" lengthAdjust="spacingAndGlyphs">com o código do aeroporto</text>
<text class="a" x="405.6" y="175" textLength="70" lengthAdjust="spacingAndGlyphs">de destino.</text>
<text class="a" x="405.6" y="193.8" textLength="167" lengthAdjust="spacingAndGlyphs">Há ainda o cuidado de por</text>
<text class="a" x="405.6" y="212.5" textLength="175" lengthAdjust="spacingAndGlyphs">um lacre nas malas que não</text>
<text class="a" x="405.6" y="231.7" textLength="83" lengthAdjust="spacingAndGlyphs">têm cadeado</text>
<text class="a" x="405.6" y="257" textLength="160" lengthAdjust="spacingAndGlyphs">As companhias menores</text>
<text class="a" x="405.6" y="276" textLength="150" lengthAdjust="spacingAndGlyphs">ainda colocam um selo</text>
<text class="a" x="405.6" y="295" textLength="121" lengthAdjust="spacingAndGlyphs">para que seja mais</text>
<text class="a" x="405.6" y="313.8" textLength="148" lengthAdjust="spacingAndGlyphs">facilmente identificada</text>
<text class="a" x="405.6" y="332.6" textLength="123" lengthAdjust="spacingAndGlyphs">no meio das outras</text>
<text class="a" x="534.7" y="519.6" textLength="127" lengthAdjust="spacingAndGlyphs">O passageiro segue</text>
<text class="a" x="534.7" y="538.4" textLength="106" lengthAdjust="spacingAndGlyphs">para o portão de</text>
<text class="a" x="534.7" y="557.6" textLength="109" lengthAdjust="spacingAndGlyphs">embarque com a</text>
<text class="a" x="534.7" y="576.3" textLength="112" lengthAdjust="spacingAndGlyphs">bagagem de mão</text>
<!-- step 4 -->
<text class="h" x="961.7" y="137" textLength="152.5" lengthAdjust="spacingAndGlyphs">Embarque no porão</text>
<text class="b" x="961.7" y="158" textLength="464" lengthAdjust="spacingAndGlyphs">As malas são embarcadas na parte da frente e de traz do porão</text>
<text class="a" x="987.8" y="204.5" textLength="159" lengthAdjust="spacingAndGlyphs">O meio é reservado para</text>
<text class="a" x="987.8" y="223.2" textLength="137" lengthAdjust="spacingAndGlyphs">combustível e outros</text>
<text class="a" x="987.8" y="242.4" textLength="179" lengthAdjust="spacingAndGlyphs">materiais de funcionamento</text>
<text class="a" x="1051" y="261.2" textLength="53.6" lengthAdjust="spacingAndGlyphs">do avião</text>
<text class="a" x="1211" y="204.5" textLength="143" lengthAdjust="spacingAndGlyphs">Divisórias separam as</text>
<text class="a" x="1211" y="223.2" textLength="140" lengthAdjust="spacingAndGlyphs">malas de acordo com</text>
<text class="a" x="1211" y="242.4" textLength="144.5" lengthAdjust="spacingAndGlyphs">o aeroporto de destino</text>
<text class="o" x="1402" y="206" textLength="145" lengthAdjust="spacingAndGlyphs">Aqui também pode</text>
<text class="o" x="1402" y="227.2" textLength="117" lengthAdjust="spacingAndGlyphs">haver confusão</text>
<text class="o" x="1402" y="247.8" textLength="110" lengthAdjust="spacingAndGlyphs">do funcionário</text>
<text class="o" x="1402" y="268.8" textLength="112" lengthAdjust="spacingAndGlyphs">e acondicionar</text>
<text class="o" x="1402" y="289.3" textLength="108" lengthAdjust="spacingAndGlyphs">a bagagem na</text>
<text class="o" x="1402" y="309.8" textLength="109" lengthAdjust="spacingAndGlyphs">divisão errada</text>
<!-- step 3 -->
<text class="h" x="43.4" y="1168.9" textLength="63" lengthAdjust="spacingAndGlyphs">Triagem</text>
<text class="b" x="42.3" y="1190" textLength="93" lengthAdjust="spacingAndGlyphs">Funcionários</text>
<text class="b" x="6" y="1210.5" textLength="94" lengthAdjust="spacingAndGlyphs">de empresas</text>
<text class="b" x="6" y="1231" textLength="94" lengthAdjust="spacingAndGlyphs">terceirizadas</text>
<text class="b" x="6" y="1252" textLength="134" lengthAdjust="spacingAndGlyphs">separam as malas</text>
<text class="b" x="6" y="1272.8" textLength="141" lengthAdjust="spacingAndGlyphs">de acordo com o nº</text>
<text class="b" x="6" y="1293.9" textLength="147.5" lengthAdjust="spacingAndGlyphs">do voo e as colocam</text>
<text class="b" x="6" y="1314.5" textLength="148" lengthAdjust="spacingAndGlyphs">em carrinhos que as</text>
<text class="b" x="6" y="1335.5" textLength="134" lengthAdjust="spacingAndGlyphs">levarão aos aviões</text>
<text class="o" x="200.5" y="1236" textLength="100" lengthAdjust="spacingAndGlyphs">Funcionários</text>
<text class="o" x="200.5" y="1257" textLength="75" lengthAdjust="spacingAndGlyphs">podem se</text>
<text class="o" x="200.5" y="1278" textLength="87" lengthAdjust="spacingAndGlyphs">confundir e</text>
<text class="o" x="200.5" y="1298.5" textLength="132" lengthAdjust="spacingAndGlyphs">colocar malas no</text>
<text class="o" x="200.5" y="1319.5" textLength="120" lengthAdjust="spacingAndGlyphs">carrinho errado</text>
<text class="o" x="542.9" y="1086" textLength="111" lengthAdjust="spacingAndGlyphs">Em Cumbica a</text>
<text class="o" x="542.9" y="1107" textLength="145" lengthAdjust="spacingAndGlyphs">esteira que leva ao</text>
<text class="o" x="542.9" y="1127.7" textLength="148" lengthAdjust="spacingAndGlyphs">pátio é em descida,</text>
<text class="o" x="542.9" y="1148" textLength="126" lengthAdjust="spacingAndGlyphs">as malas podem</text>
<text class="o" x="542.9" y="1169" textLength="119" lengthAdjust="spacingAndGlyphs">enroscar, cair e</text>
<text class="o" x="542.9" y="1190" textLength="146" lengthAdjust="spacingAndGlyphs">ficar no pátio e não</text>
<text class="o" x="542.9" y="1210.5" textLength="143" lengthAdjust="spacingAndGlyphs">embarcar no avião</text>
<text class="a" x="216.8" y="987.5" textLength="71.4" lengthAdjust="spacingAndGlyphs">Raio x para</text>
<text class="a" x="216.8" y="1006.3" textLength="116" lengthAdjust="spacingAndGlyphs">bagagens de voos</text>
<text class="a" x="216.8" y="1025" textLength="91" lengthAdjust="spacingAndGlyphs">internacionais</text>
<text class="a" x="407" y="1145.5" textLength="88" lengthAdjust="spacingAndGlyphs">Seguranças e</text>
<text class="a" x="407" y="1164.7" textLength="103" lengthAdjust="spacingAndGlyphs">câmeras vigiam</text>
<text class="a" x="407" y="1183.5" textLength="73" lengthAdjust="spacingAndGlyphs">a área para</text>
<text class="a" x="407" y="1202.7" textLength="80" lengthAdjust="spacingAndGlyphs">evitar furtos</text>
<text class="a" x="407" y="1305.8" textLength="70" lengthAdjust="spacingAndGlyphs">Nos aviões</text>
<text class="a" x="407" y="1325" textLength="75" lengthAdjust="spacingAndGlyphs">maiores, as</text>
<text class="a" x="407" y="1343.8" textLength="91" lengthAdjust="spacingAndGlyphs">malas entram</text>
<text class="a" x="407" y="1363" textLength="87" lengthAdjust="spacingAndGlyphs">em pequenos</text>
<text class="a" x="407" y="1381.8" textLength="68" lengthAdjust="spacingAndGlyphs">containers</text>
<!-- inset text -->
<text class="a" x="1285" y="790.7" textLength="105" lengthAdjust="spacingAndGlyphs">Nos aviões mais</text>
<text class="a" x="1273" y="810" textLength="117" lengthAdjust="spacingAndGlyphs">altos a bagagem é</text>
<text class="a" x="1278" y="828.7" textLength="112" lengthAdjust="spacingAndGlyphs">carregada dentro</text>
<text class="a" x="1302" y="847.4" textLength="88" lengthAdjust="spacingAndGlyphs">de containers</text>
<text class="a" x="1309" y="866.7" textLength="81" lengthAdjust="spacingAndGlyphs">erguidos por</text>
<text class="a" x="1318.5" y="885.4" textLength="71.5" lengthAdjust="spacingAndGlyphs">elevadores</text>
<!-- step 5 -->
<text class="h" x="850.5" y="974.7" textLength="82" lengthAdjust="spacingAndGlyphs">No destino</text>
<text class="b" x="849.5" y="995.3" textLength="547.5" lengthAdjust="spacingAndGlyphs">As malas podem desembarcar na primeira escala ou seguir para o transfer</text>
<text class="a" x="824" y="1295" textLength="175" lengthAdjust="spacingAndGlyphs">No aeroporto de destino as</text>
<text class="a" x="824" y="1314" textLength="165" lengthAdjust="spacingAndGlyphs">malas são levadas para o</text>
<text class="a" x="824" y="1332.8" textLength="126.5" lengthAdjust="spacingAndGlyphs">setor de entrega de</text>
<text class="a" x="824" y="1352" textLength="168" lengthAdjust="spacingAndGlyphs">bagagens e retiradas pelo</text>
<text class="a" x="824" y="1370.8" textLength="70" lengthAdjust="spacingAndGlyphs">passageiro</text>
<text class="a" x="1108.7" y="1295" textLength="168" lengthAdjust="spacingAndGlyphs">Se o passageiro tiver uma</text>
<text class="a" x="1108.7" y="1314" textLength="176.5" lengthAdjust="spacingAndGlyphs">conexão para outro destino</text>
<text class="a" x="1108.7" y="1332.8" textLength="168" lengthAdjust="spacingAndGlyphs">as malas são transferidas</text>
<text class="a" x="1108.7" y="1352" textLength="178.6" lengthAdjust="spacingAndGlyphs">por funcionários até o avião</text>
<text class="a" x="1108.7" y="1370.8" textLength="171" lengthAdjust="spacingAndGlyphs">que fará o segundo trajeto</text>
<text class="o" x="1376" y="1297" textLength="166" lengthAdjust="spacingAndGlyphs">Aqui a bagagem pode</text>
<text class="o" x="1376" y="1317.7" textLength="184" lengthAdjust="spacingAndGlyphs">ser colocada em destino</text>
<text class="o" x="1376" y="1338" textLength="103" lengthAdjust="spacingAndGlyphs">errado ou ser</text>
<text class="o" x="1376" y="1359.3" textLength="138" lengthAdjust="spacingAndGlyphs">desembarcada no</text>
<text class="o" x="1376" y="1380" textLength="145" lengthAdjust="spacingAndGlyphs">primeiro aeroporto</text>
<!-- footer -->
<line x1="3" y1="1400.5" x2="779" y2="1400.5" stroke="#444" stroke-dasharray="1.3 2.7"/>
<text x="1421.4" y="1412" textLength="174.5" lengthAdjust="spacingAndGlyphs" style="font-size:10px;fill:#333;font-family:'Liberation Mono',monospace">INFOGRÁFICO: WILLIAM MARIOTTO/AE</text>
</svg>
</body></html>
